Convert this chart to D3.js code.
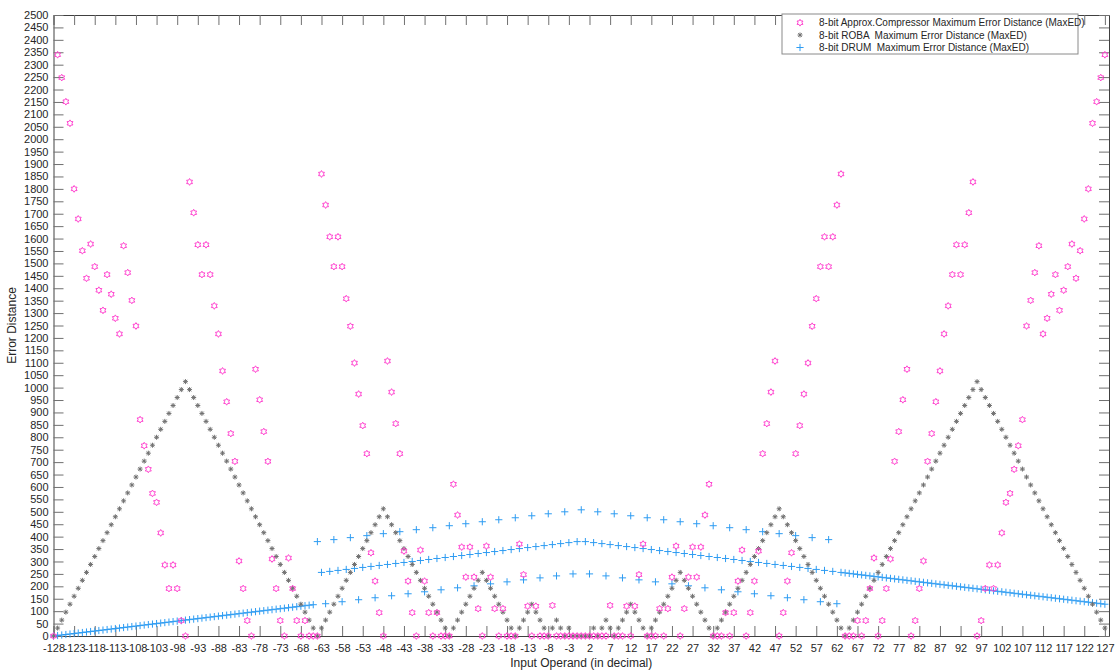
<!DOCTYPE html>
<html><head><meta charset="utf-8">
<script src="https://cdn.jsdelivr.net/npm/d3@7"></script>
<style>
body{margin:0;background:#fff}
text{font-family:"Liberation Sans",Arial,Helvetica,sans-serif}
</style>
</head><body>
<svg id="chart" width="1116" height="671"></svg>
<script>
// Input operands -128 .. 127
const xValues = d3.range(-128, 128);

// 8-bit Approx.Compressor MaxED (x = -128 .. 127)
const compressorMaxED = [0,
2340,2248,2151,2064,1800,1679,1551,1440,1578,1487,1392,1311,1455,1376,1279,1216,1571,1463,1351,1248,871,766,671,574,538,415,286,191,286,191,62,0,
1828,1704,1575,1455,1575,1455,1329,1216,1067,943,815,703,302,191,62,0,1074,951,823,703,310,191,62,0,314,191,62,0,62,0,0,0,
1860,1735,1607,1487,1607,1487,1358,1247,1099,974,847,734,335,221,94,0,1107,982,855,734,342,221,94,0,346,221,94,0,94,0,0,0,
611,487,358,237,358,237,110,0,362,237,110,0,110,0,0,0,370,247,120,0,120,0,0,0,123,0,0,0,0,0,0,
0,
0,0,0,0,0,0,123,0,0,0,120,0,120,247,370,0,0,0,110,0,110,237,362,0,110,237,358,237,358,487,611,0,
0,0,94,0,94,221,346,0,94,221,342,734,855,982,1107,0,94,221,335,734,847,974,1099,1247,1358,1487,1607,1487,1607,1735,1860,0,
0,0,62,0,62,191,314,0,62,191,310,703,823,951,1074,0,62,191,302,703,815,943,1067,1216,1329,1455,1575,1455,1575,1704,1828,0,
62,191,286,191,286,415,538,574,671,766,871,1248,1351,1463,1571,1216,1279,1376,1455,1311,1392,1487,1578,1440,1551,1679,1800,2064,2151,2248,2340];

// 8-bit ROBA MaxED (x = -128 .. 127)
const robaMaxED = [
0,32,64,96,128,160,192,224,256,288,320,352,384,416,448,480,512,544,576,608,640,672,704,736,768,800,832,864,896,928,960,992,
1024,992,960,928,896,864,832,800,768,736,704,672,640,608,576,544,512,480,448,416,384,352,320,288,256,224,192,160,128,96,64,32,
0,32,64,96,128,160,192,224,256,288,320,352,384,416,448,480,
512,480,448,416,384,352,320,288,256,224,192,160,128,96,64,32,
0,32,64,96,128,160,192,224,256,224,192,160,128,96,64,32,
0,32,64,96,128,96,64,32,0,32,64,32,0,32,0,0,
0,
0,0,32,0,32,64,32,0,32,64,96,128,96,64,32,0,
32,64,96,128,160,192,224,256,224,192,160,128,96,64,32,0,
32,64,96,128,160,192,224,256,288,320,352,384,416,448,480,512,
480,448,416,384,352,320,288,256,224,192,160,128,96,64,32,0,
32,64,96,128,160,192,224,256,288,320,352,384,416,448,480,512,544,576,608,640,672,704,736,768,800,832,864,896,928,960,992,1024,
992,960,928,896,864,832,800,768,736,704,672,640,608,576,544,512,480,448,416,384,352,320,288,256,224,192,160,128,96,64,32];

// 8-bit DRUM MaxED (x = -128 .. 127)
const drumMaxED = [
0,2,4,6,8,10,12,14,16,18,20,22,24,26,28,30,32,34,36,38,40,42,44,46,48,50,52,54,56,58,60,62,
64,66,68,70,72,74,76,78,80,82,84,86,88,90,92,94,96,98,100,102,104,106,108,110,112,114,116,118,120,122,124,126,
380,256,130,260,388,264,138,268,396,272,146,276,404,280,154,284,
412,288,162,292,420,296,170,300,428,304,178,308,436,312,186,316,
444,320,194,324,452,328,202,332,460,336,210,340,468,344,218,348,
476,352,226,356,484,360,234,364,492,368,242,372,500,376,250,380,
508,380,250,376,500,372,242,368,492,364,234,360,484,356,226,352,
476,348,218,344,468,340,210,336,460,332,202,328,452,324,194,320,
444,316,186,312,436,308,178,304,428,300,170,296,420,292,162,288,
412,284,154,280,404,276,146,272,396,268,138,264,388,260,130,256,
254,252,250,248,246,244,242,240,238,236,234,232,230,228,226,224,222,220,218,216,214,212,210,208,206,204,202,200,198,196,194,192,
190,188,186,184,182,180,178,176,174,172,170,168,166,164,162,160,158,156,154,152,150,148,146,144,142,140,138,136,134,132,130,128];

const xTickValues = d3.range(-128, 128, 5);
const yTickValues = d3.range(0, 2501, 50);
const seriesNames = [
  "8-bit Approx.Compressor Maximum Error Distance (MaxED)",
  "8-bit ROBA  Maximum Error Distance (MaxED)",
  "8-bit DRUM  Maximum Error Distance (MaxED)"
];
const seriesColors = ["#ff45d0", "#707070", "#2e9cf2"];

const svg = d3.select("#chart");
const L = 53.5, R = 1109, T = 15, B = 636;
const x = d3.scaleLinear().domain([-128, 128]).range([L, R]);
const y = d3.scaleLinear().domain([0, 2500]).range([B, T]);

svg.append("rect").attr("width", 1116).attr("height", 671).attr("fill", "#fff");

// hexagram marker
function hexagram(r, ri) {
  const pts = [];
  for (let i = 0; i < 12; i++) {
    const a = -Math.PI / 2 + i * Math.PI / 6;
    const rr = i % 2 === 0 ? r : ri;
    pts.push([rr * Math.cos(a), rr * Math.sin(a)]);
  }
  return "M" + pts.map(p => p[0].toFixed(2) + "," + p[1].toFixed(2)).join("L") + "Z";
}
const markers = [
  hexagram(3.4, 2.0),
  "M-2.5,0H2.5M0,-2.5V2.5M-1.8,-1.8L1.8,1.8M-1.8,1.8L1.8,-1.8",
  "M-3.6,0H3.6M0,-3.6V3.6"
];
const fmt = d => String(d);

// axes
function styleAxis(g) {
  g.select(".domain").attr("stroke", "#404040").attr("stroke-width", 1);
  g.selectAll(".tick line").attr("stroke", "#707070");
  g.selectAll(".tick text").attr("fill", "#262626").style("font-size", "11px");
}
svg.append("g").attr("transform", `translate(0,${B})`)
  .call(d3.axisBottom(x).tickValues(xTickValues).tickSizeInner(-10).tickSizeOuter(0).tickPadding(8).tickFormat(fmt))
  .call(styleAxis);
svg.append("g").attr("transform", `translate(0,${T})`)
  .call(d3.axisTop(x).tickValues(xTickValues).tickSizeInner(-10).tickSizeOuter(0).tickFormat(""))
  .call(styleAxis);
svg.append("g").attr("transform", `translate(${L},0)`)
  .call(d3.axisLeft(y).tickValues(yTickValues).tickSizeInner(-10).tickSizeOuter(0).tickPadding(5).tickFormat(fmt))
  .call(styleAxis);
svg.append("g").attr("transform", `translate(${R},0)`)
  .call(d3.axisRight(y).tickValues(yTickValues).tickSizeInner(-10).tickSizeOuter(0).tickFormat(""))
  .call(styleAxis);

// series
const seriesData = [compressorMaxED, robaMaxED, drumMaxED];
[2, 1, 0].forEach(si => {
  svg.append("g").selectAll("path")
    .data(seriesData[si].map((v, i) => ({x: xValues[i], v})))
    .join("path")
    .attr("d", markers[si])
    .attr("transform", d => `translate(${x(d.x)},${y(d.v)})`)
    .attr("fill", "none")
    .attr("stroke", seriesColors[si])
    .attr("stroke-width", 1);
});

// axis titles
svg.append("text").attr("x", (L + R) / 2).attr("y", 667).attr("text-anchor", "middle")
  .attr("fill", "#262626").style("font-size", "12px").text("Input Operand (in decimal)");
svg.append("text").attr("transform", `translate(16,${(T + B) / 2}) rotate(-90)`).attr("text-anchor", "middle")
  .attr("fill", "#262626").style("font-size", "12px").text("Error Distance");

// legend
const lg = svg.append("g");
lg.append("rect").attr("x", 782).attr("y", 14).attr("width", 296).attr("height", 40)
  .attr("fill", "#fff").attr("stroke", "#8a8a8a").attr("stroke-width", 1);
const rowsY = [22.7, 35, 47.5];
seriesNames.forEach((name, i) => {
  lg.append("path").attr("d", markers[i]).attr("transform", `translate(800,${rowsY[i]})`)
    .attr("fill", "none").attr("stroke", seriesColors[i]).attr("stroke-width", 1);
  lg.append("text").attr("x", 819).attr("y", rowsY[i]).attr("dy", "0.35em")
    .attr("fill", "#262626").style("font-size", "10px").style("white-space", "pre")
    .attr("xml:space", "preserve").text(name);
});
</script>
</body></html>
